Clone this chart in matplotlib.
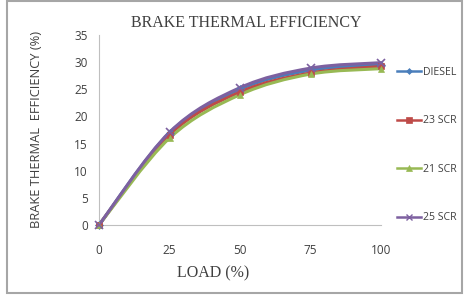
import matplotlib
matplotlib.use("Agg")
import matplotlib.pyplot as plt
from matplotlib.path import Path
from matplotlib.patches import PathPatch, Rectangle
from matplotlib.lines import Line2D
import numpy as np

load = [0, 25, 50, 75, 100]
diesel = [0, 17.0, 25.0, 28.5, 29.5]
scr23 = [0, 16.6, 24.5, 28.0, 29.2]
scr21 = [0, 16.0, 24.0, 27.8, 28.8]
scr25 = [0, 17.1, 25.3, 28.9, 29.9]

series = [
    ("DIESEL", diesel, "#4A7EBB", "D", 4),
    ("23 SCR", scr23, "#BE4B48", "s", 5),
    ("21 SCR", scr21, "#98B954", "^", 5),
    ("25 SCR", scr25, "#7D60A0", "x", 6),
]

NARROW = ["Liberation Sans Narrow", "Open Sans"]

def smooth_path(x, y):
    pts = np.column_stack([x, y]).astype(float)
    n = len(pts)
    verts = [pts[0]]
    codes = [Path.MOVETO]
    for i in range(n - 1):
        p0 = pts[i - 1] if i > 0 else pts[i]
        p1 = pts[i]
        p2 = pts[i + 1]
        p3 = pts[i + 2] if i + 2 < n else pts[i + 1]
        c1 = p1 + (p2 - p0) / 6.0
        c2 = p2 - (p3 - p1) / 6.0
        verts += [c1, c2, p2]
        codes += [Path.CURVE4] * 3
    return Path(verts, codes)

fig = plt.figure(figsize=(4.66, 3.06), dpi=100)
ax = fig.add_axes([99/466, 1-225/306, (381-99)/466, (225-35)/306])

handles = []
for name, vals, color, mk, ms in series:
    patch = PathPatch(smooth_path(load, vals), facecolor="none", edgecolor=color,
                      lw=2.2, zorder=2)
    ax.add_patch(patch)
    ax.plot(load, vals, linestyle="none", marker=mk, color=color, markersize=ms,
            markeredgewidth=1.2 if mk == "x" else 0.5, zorder=3, clip_on=False)
    handles.append(Line2D([], [], color=color, lw=1.8, marker=mk, markersize=ms - 1,
                          markeredgewidth=1.0 if mk == "x" else 0.5, label=name))

ax.set_xlim(0, 100)
ax.set_ylim(0, 35)
ax.set_xticks(load)
ax.set_yticks(range(0, 36, 5))
for s in ["top", "right"]:
    ax.spines[s].set_visible(False)
for s in ["left", "bottom"]:
    ax.spines[s].set_color("#bfbfbf")
    ax.spines[s].set_linewidth(0.8)
ax.tick_params(length=0, labelsize=8.5, colors="#404040")
ax.tick_params(axis="y", pad=8)
ax.tick_params(axis="x", pad=14)
for lab in ax.get_xticklabels() + ax.get_yticklabels():
    lab.set_fontfamily(NARROW)

fig.text(246/466, 1-23/306, "BRAKE THERMAL EFFICIENCY", ha="center", va="center",
         fontsize=11.5, family="Liberation Serif", color="#404040")
fig.text(213/466, 1-273/306, "LOAD (%)", ha="center", va="center",
         fontsize=11.5, family="Liberation Serif", color="#404040")
fig.text(37/466, 1-129/306, "BRAKE THERMAL  EFFICIENCY (%)", ha="center", va="center",
         rotation=90, fontsize=9.3, family=NARROW, color="#404040")

leg = fig.legend(handles=handles, loc="center left", bbox_to_anchor=(397/466, 1-145/306),
                 frameon=False, fontsize=7.6, handlelength=2.3, handletextpad=0.15,
                 labelspacing=3.55, numpoints=1, borderpad=0, borderaxespad=0)
for t in leg.get_texts():
    t.set_fontfamily(NARROW)
    t.set_color("#404040")

fig.patches.append(Rectangle((7/466, 1-293/306), (462-7)/466, (293-1)/306,
                             transform=fig.transFigure, fill=False,
                             edgecolor="#a6a6a6", lw=1.5))

fig.savefig("out.png", dpi=100)
